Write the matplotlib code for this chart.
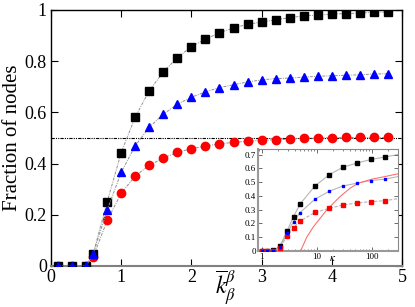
import numpy as np
import matplotlib
matplotlib.use('Agg')
import matplotlib.pyplot as plt

plt.rcParams['font.family'] = ['Liberation Serif', 'DejaVu Serif']
plt.rcParams['mathtext.fontset'] = 'stix'

# main panel data
k_beta = [0.1, 0.3, 0.5, 0.6, 0.8, 1.0, 1.2, 1.4, 1.6, 1.8, 2.0, 2.2, 2.4, 2.6,
          2.8, 3.0, 3.2, 3.4, 3.6, 3.8, 4.0, 4.2, 4.4, 4.6, 4.8]
frac_black = [0, 0, 0, 0.047, 0.25, 0.443, 0.582, 0.685, 0.758, 0.814, 0.857, 0.886,
              0.911, 0.930, 0.944, 0.953, 0.962, 0.970, 0.977, 0.980, 0.984, 0.986,
              0.988, 0.991, 0.992]
frac_blue = [0, 0, 0, 0.047, 0.218, 0.366, 0.470, 0.542, 0.593, 0.632, 0.659, 0.680,
             0.697, 0.708, 0.719, 0.727, 0.732, 0.734, 0.738, 0.741, 0.743, 0.745,
             0.747, 0.750, 0.751]
frac_red = [0, 0, 0, 0.035, 0.178, 0.284, 0.352, 0.393, 0.422, 0.444, 0.458, 0.469,
            0.477, 0.483, 0.487, 0.491, 0.493, 0.496, 0.499, 0.500, 0.501, 0.502,
            0.502, 0.502, 0.502]
half_level = 0.5

# inset data
kappa = [1.0, 1.25, 1.63, 2.15, 2.9, 3.8, 5.0, 9.3, 16.9, 30, 54, 96, 174]
ins_black = [0, 0, 0.005, 0.035, 0.146, 0.250, 0.341, 0.472, 0.553, 0.608, 0.638, 0.664, 0.682]
ins_blue = [0, 0, 0, 0.030, 0.130, 0.212, 0.279, 0.376, 0.433, 0.472, 0.492, 0.511, 0.521]
ins_red = [0, 0, 0, 0.025, 0.108, 0.170, 0.217, 0.280, 0.309, 0.334, 0.348, 0.358, 0.365]
kappa_tail = 300
tail_black, tail_blue, tail_red = 0.70, 0.54, 0.38
kappa_theory = [5.1, 6.6, 8.7, 11.5, 15.2, 20, 26.5, 40.4, 57, 100, 174, 300]
theory_red = [0, 0.10, 0.175, 0.236, 0.297, 0.346, 0.394, 0.455, 0.492, 0.521, 0.540, 0.560]

fig = plt.figure(figsize=(4.15, 3.07), dpi=100)
ax = fig.add_axes([51 / 415, 41 / 307, 351 / 415, 256 / 307])

ls_conn = (0, (3, 1.2, 1, 1.2))
ax.axhline(half_level, color='black', lw=0.8, ls=(0, (3, 1, 1, 1, 1, 1)), zorder=1)
ax.plot(k_beta, frac_black, ls=ls_conn, color='#909090', lw=0.7,
        marker='s', ms=5.4, mfc='black', mec='black', zorder=3)
ax.plot(k_beta, frac_red, ls=ls_conn, color='#909090', lw=0.7,
        marker='o', ms=6.0, mfc='red', mec='red', zorder=2)
ax.plot(k_beta, frac_blue, ls=ls_conn, color='#909090', lw=0.7,
        marker='^', ms=5.8, mfc='blue', mec='blue', zorder=4)

ax.set_xlim(0, 5)
ax.set_ylim(0, 1)
ax.set_xticks([0, 1, 2, 3, 4, 5])
ax.set_xticklabels(['0', '1', '2', '3', '4', '5'])
ax.set_yticks([0, 0.2, 0.4, 0.6, 0.8, 1])
ax.set_yticklabels(['0', '0.2', '0.4', '0.6', '0.8', '1'])
ax.tick_params(direction='in', top=True, right=True, length=5, width=0.8,
               labelsize=13, pad=3)
ax.tick_params(axis='x', pad=2)
for s in ['left', 'top', 'right']:
    ax.spines[s].set_linewidth(1.0)
ax.spines['bottom'].set_color('#808080')
ax.spines['bottom'].set_linewidth(1.5)

ax.set_ylabel('Fraction of nodes', fontsize=15, labelpad=2)
ax.set_xlabel(r'$\overline{k}_{\beta}^{\beta}$', fontsize=17, va='center')
ax.xaxis.set_label_coords(0.497, -0.084)

# inset
ins = fig.add_axes([258 / 415, 56 / 307, 140 / 415, 102 / 307])
ins.plot(kappa + [kappa_tail], ins_black + [tail_black], color='#b5b5b5', lw=0.8, zorder=1)
ins.plot(kappa + [kappa_tail], ins_blue + [tail_blue], color='#b5b5b5', lw=0.8, zorder=1)
ins.plot(kappa + [kappa_tail], ins_red + [tail_red], color='#b5b5b5', lw=0.8,
         ls=(0, (3, 1.5)), zorder=1)
ins.plot(kappa_theory, theory_red, color='#ff7070', lw=0.8, zorder=2)
ins.plot(kappa, ins_black, ls='none', marker='s', ms=2.8, color='black', zorder=3)
ins.plot(kappa, ins_red, ls='none', marker='s', ms=2.5, color='red', zorder=3)
ins.plot(kappa, ins_blue, ls='none', marker='s', ms=2.1, color='blue', zorder=4)

ins.set_xscale('log')
ins.set_xlim(0.86, 300)
ins.set_ylim(0, 0.74)
ins.set_xticks([1, 10, 100])
ins.set_xticklabels(['1', '10', '100'])
ins.set_yticks([0, 0.1, 0.2, 0.3, 0.4, 0.5, 0.6, 0.7])
ins.set_yticklabels(['0', '0.1', '0.2', '0.3', '0.4', '0.5', '0.6', '0.7'])
ins.tick_params(which='both', direction='in', top=True, right=True, labelsize=6.5,
                pad=1.5, colors='#555555', labelcolor='black')
ins.tick_params(which='major', length=3, width=0.6)
ins.tick_params(which='minor', length=1.5, width=0.5)
for s in ['top', 'right']:
    ins.spines[s].set_color('#888888')
    ins.spines[s].set_linewidth(0.8)
for s in ['left', 'bottom']:
    ins.spines[s].set_color('#999999')
    ins.spines[s].set_linewidth(1.5)
ins.set_xlabel(r'$\kappa$', fontsize=8)
ins.xaxis.set_label_coords(0.535, -0.03)

fig.savefig('out.png', dpi=100)
